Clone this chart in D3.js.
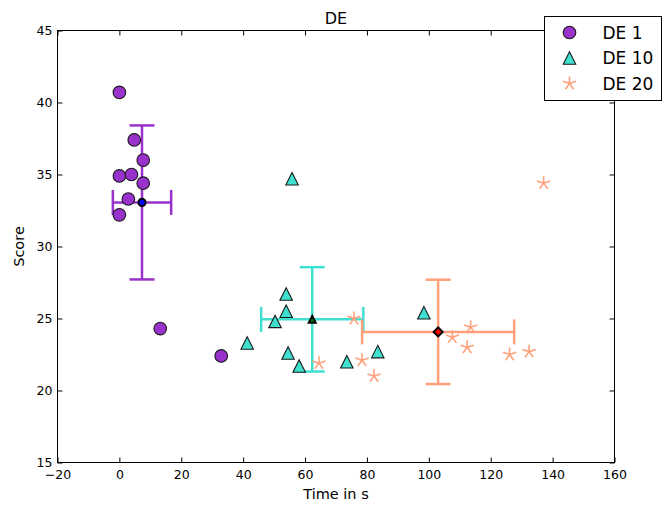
<!DOCTYPE html>
<html>
<head>
<meta charset="utf-8">
<script src="https://cdn.jsdelivr.net/npm/d3@7/dist/d3.min.js"></script>
<style>
  html, body { margin: 0; padding: 0; background: #fff; }
  svg { display: block; font-family: "DejaVu Sans", sans-serif; }
</style>
</head>
<body>
<svg id="chart" width="664" height="512"></svg>
<script>
// Time (s) and score per run, one pair of arrays per group
const de1Time  = [0, 4.8, 7.7, 0, 3.9, 7.7, 2.9, 0, 13.2, 32.9];
const de1Score = [40.7, 37.4, 36.0, 34.9, 35.0, 34.4, 33.3, 32.2, 24.3, 22.4];

const de10Time  = [55.8, 53.9, 53.9, 50.3, 41.3, 54.5, 58.1, 73.5, 83.5, 98.4];
const de10Score = [34.7, 26.7, 25.5, 24.8, 23.3, 22.6, 21.7, 22.0, 22.7, 25.4];

const de20Time  = [137.1, 75.8, 64.5, 78.4, 82.3, 107.6, 112.4, 113.5, 126.1, 132.4];
const de20Score = [34.4, 25.0, 21.9, 22.1, 21.0, 23.7, 23.0, 24.4, 22.5, 22.7];

const groupNames = ["DE 1", "DE 10", "DE 20"];
const xTicks = [-20, 0, 20, 40, 60, 80, 100, 120, 140, 160];
const yTicks = [15, 20, 25, 30, 35, 40, 45];

const groups = [
  { name: groupNames[0], time: de1Time,  score: de1Score,  color: "#9932CC", shape: "circle",   meanFill: "#0000FF" },
  { name: groupNames[1], time: de10Time, score: de10Score, color: "#40E0D0", shape: "triangle", meanFill: "#008000" },
  { name: groupNames[2], time: de20Time, score: de20Score, color: "#FFA07A", shape: "star",     meanFill: "#FF0000" }
];

// population standard deviation
const popStd = v => { const m = d3.mean(v); return Math.sqrt(d3.mean(v, d => (d - m) * (d - m))); };
groups.forEach(g => {
  g.mx = d3.mean(g.time);  g.my = d3.mean(g.score);
  g.sx = popStd(g.time);   g.sy = popStd(g.score);
});

const svg = d3.select("#chart");
const m = { left: 57.5, right: 614.5, top: 30.5, bottom: 462.5 };

const x = d3.scaleLinear().domain([-20, 160]).range([m.left, m.right]);
const y = d3.scaleLinear().domain([15, 45]).range([m.bottom, m.top]);

// marker paths
function trianglePath(s) {
  const h = s / 2;
  return `M0,${-h}L${h},${h}L${-h},${h}Z`;
}
function starPath(r) {
  let p = "";
  for (let k = 0; k < 5; k++) {
    const a = -Math.PI / 2 + k * 2 * Math.PI / 5;
    p += `M0,0L${(r * Math.cos(a)).toFixed(2)},${(r * Math.sin(a)).toFixed(2)}`;
  }
  return p;
}
function diamondPath(s) {
  const h = s / 2;
  return `M0,${-h}L${h},0L0,${h}L${-h},0Z`;
}

function drawMarker(sel, shape, color) {
  if (shape === "circle") {
    sel.append("circle").attr("r", 6.3)
      .attr("fill", color).attr("stroke", "#1a1a1a").attr("stroke-width", 1.1);
  } else if (shape === "triangle") {
    sel.append("path").attr("d", trianglePath(12.5))
      .attr("fill", color).attr("stroke", "#1a1a1a").attr("stroke-width", 1.1)
      .attr("stroke-linejoin", "miter");
  } else {
    sel.append("path").attr("d", starPath(7))
      .attr("fill", "none").attr("stroke", color).attr("stroke-width", 1.6)
      .attr("stroke-linecap", "butt");
  }
}

const plot = svg.append("g");
const cap = 12.5;

groups.forEach(g => {
  // error bars (±1 std in both directions) with caps
  const eb = plot.append("g").attr("stroke", g.color).attr("stroke-width", 2.5).attr("fill", "none");
  const cx = x(g.mx), cy = y(g.my);
  const x0 = x(g.mx - g.sx), x1 = x(g.mx + g.sx);
  const y0 = y(g.my - g.sy), y1 = y(g.my + g.sy);
  eb.append("line").attr("x1", x0).attr("x2", x1).attr("y1", cy).attr("y2", cy);
  eb.append("line").attr("x1", cx).attr("x2", cx).attr("y1", y0).attr("y2", y1);
  eb.append("line").attr("x1", x0).attr("x2", x0).attr("y1", cy - cap).attr("y2", cy + cap);
  eb.append("line").attr("x1", x1).attr("x2", x1).attr("y1", cy - cap).attr("y2", cy + cap);
  eb.append("line").attr("x1", cx - cap).attr("x2", cx + cap).attr("y1", y0).attr("y2", y0);
  eb.append("line").attr("x1", cx - cap).attr("x2", cx + cap).attr("y1", y1).attr("y2", y1);

  // individual runs
  const pts = plot.append("g").selectAll("g")
    .data(d3.range(g.time.length))
    .join("g")
    .attr("transform", i => `translate(${x(g.time[i])},${y(g.score[i])})`);
  pts.each(function () { drawMarker(d3.select(this), g.shape, g.color); });
});

// group means on top
groups.forEach(g => {
  const mg = plot.append("g").attr("transform", `translate(${x(g.mx)},${y(g.my)})`);
  if (g.shape === "circle") {
    mg.append("circle").attr("r", 3.6).attr("fill", g.meanFill)
      .attr("stroke", "#000").attr("stroke-width", 2);
  } else if (g.shape === "triangle") {
    mg.append("path").attr("d", trianglePath(7)).attr("fill", g.meanFill)
      .attr("stroke", "#000").attr("stroke-width", 2);
  } else {
    mg.append("path").attr("d", diamondPath(9)).attr("fill", g.meanFill)
      .attr("stroke", "#000").attr("stroke-width", 2);
  }
});

// axes: ticks point inward, on all four sides
const tickLen = 5;
const fmt = d3.format("d");
const axB = svg.append("g").attr("transform", `translate(0,${m.bottom})`)
  .call(d3.axisBottom(x).tickValues(xTicks).tickFormat(fmt).tickSize(-tickLen).tickPadding(8));
const axL = svg.append("g").attr("transform", `translate(${m.left},0)`)
  .call(d3.axisLeft(y).tickValues(yTicks).tickFormat(fmt).tickSize(-tickLen).tickPadding(5));
const axT = svg.append("g").attr("transform", `translate(0,${m.top})`)
  .call(d3.axisTop(x).tickValues(xTicks).tickFormat("").tickSize(-tickLen));
const axR = svg.append("g").attr("transform", `translate(${m.right},0)`)
  .call(d3.axisRight(y).tickValues(yTicks).tickFormat("").tickSize(-tickLen));
[axB, axL, axT, axR].forEach(a => {
  a.select(".domain").remove();
  a.selectAll("line").attr("stroke", "#000").attr("stroke-width", 1);
  a.selectAll("text").attr("fill", "#000").style("font-size", "12.5px")
    .style("font-family", "DejaVu Sans, sans-serif");
});

// frame
svg.append("rect")
  .attr("x", m.left).attr("y", m.top)
  .attr("width", m.right - m.left).attr("height", m.bottom - m.top)
  .attr("fill", "none").attr("stroke", "#000").attr("stroke-width", 1);

// titles
svg.append("text").attr("x", (m.left + m.right) / 2).attr("y", 24)
  .attr("text-anchor", "middle").style("font-size", "16px").text("DE");
svg.append("text").attr("x", (m.left + m.right) / 2).attr("y", 499)
  .attr("text-anchor", "middle").style("font-size", "14.5px").text("Time in s");
svg.append("text")
  .attr("transform", `translate(24,${(m.top + m.bottom) / 2}) rotate(-90)`)
  .attr("text-anchor", "middle").style("font-size", "14.5px").text("Score");

// legend
const lg = svg.append("g").attr("transform", "translate(544.5,16.5)");
lg.append("rect").attr("width", 117).attr("height", 84)
  .attr("fill", "#fff").attr("stroke", "#000").attr("stroke-width", 1);
groups.forEach((g, i) => {
  const row = lg.append("g").attr("transform", `translate(25,${16 + i * 25.5})`);
  drawMarker(row, g.shape, g.color);
  row.append("text").attr("x", 33).attr("y", 0).attr("dy", "0.36em")
    .style("font-size", "17px").text(g.name);
});
</script>
</body>
</html>
